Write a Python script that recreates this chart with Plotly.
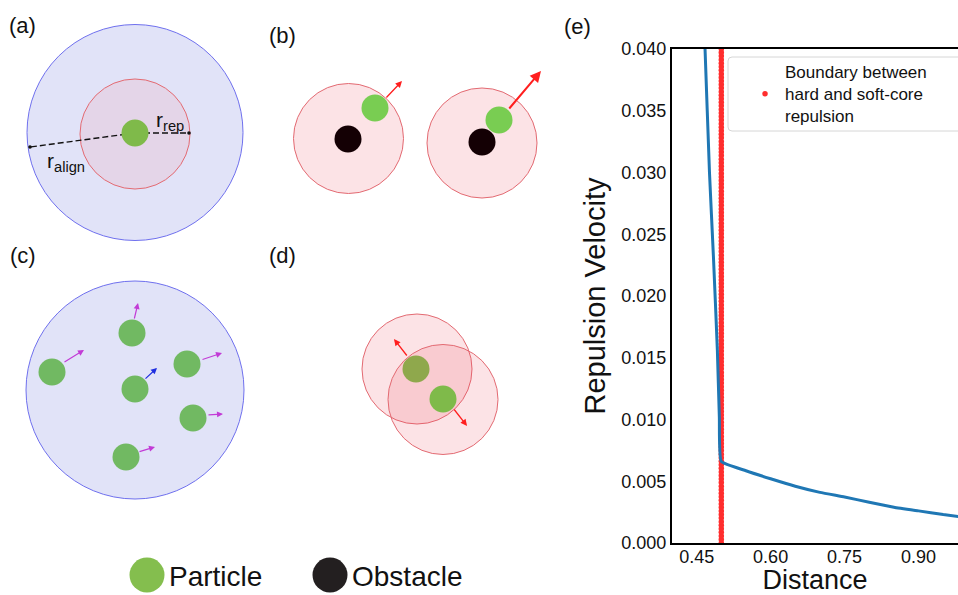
import numpy as np
import plotly.graph_objects as go

W, H = 958, 595

# ---- panel (e): repulsion velocity against distance ----
hard_distance = [0.462, 0.467, 0.476, 0.484, 0.492, 0.496, 0.500]
hard_velocity = [0.0445, 0.0400, 0.0300, 0.0232, 0.0156, 0.0102, 0.0066]
soft_distance = [0.55, 0.60, 0.65, 0.70, 0.75, 0.80, 0.85, 0.90, 0.95, 1.00]
soft_velocity = [0.00585, 0.0052, 0.0046, 0.0041, 0.00372, 0.0033, 0.0029, 0.0026, 0.0023, 0.00205]
boundary_distance = 0.5
boundary_label = "Boundary between<br>hard and soft-core<br>repulsion"
x_ticks = [0.45, 0.60, 0.75, 0.90]
y_ticks = [0.000, 0.005, 0.010, 0.015, 0.020, 0.025, 0.030, 0.035, 0.040]
x_range = [0.40, 0.98]
y_range = [0.0, 0.040]

FONT = "Liberation Sans, Arial, sans-serif"


def px(x):
    return x / W


def py(y):
    return 1 - y / H


def circle(cx, cy, r, fill, line=None, width=1.0):
    return dict(
        type="circle", xref="paper", yref="paper",
        x0=px(cx - r), x1=px(cx + r), y0=py(cy + r), y1=py(cy - r),
        fillcolor=fill,
        line=dict(color=line if line else "rgba(0,0,0,0)", width=width if line else 0),
        layer="above",
    )


def seg(x0, y0, x1, y1, color, width=1.5, dash="solid"):
    return dict(
        type="line", xref="paper", yref="paper",
        x0=px(x0), y0=py(y0), x1=px(x1), y1=py(y1),
        line=dict(color=color, width=width, dash=dash), layer="above",
    )


def arrow(x0, y0, x1, y1, color, width=1.2, size=1.0):
    return dict(
        xref="paper", yref="paper", x=px(x1), y=py(y1),
        axref="pixel", ayref="pixel", ax=x0 - x1, ay=y0 - y1,
        showarrow=True, text="", arrowhead=2, arrowsize=size,
        arrowwidth=width, arrowcolor=color, standoff=0, startstandoff=0,
    )


def label(x, y, text, size=22, xanchor="center"):
    return dict(
        xref="paper", yref="paper", x=px(x), y=py(y), text=text,
        showarrow=False, xanchor=xanchor, yanchor="middle",
        font=dict(family=FONT, size=size, color="#111111"),
    )


BLUE_FILL, BLUE_EDGE = "#e1e3f8", "#6f70ee"
PINK_FILL, RED_EDGE = "rgba(232,70,85,0.15)", "#e36a72"
GREEN_A, GREEN_B, GREEN_C = "#7fba4a", "#79cd52", "#71b962"
BLACK = "#140004"
MAGENTA, ARROW_BLUE, RED = "#c23bd6", "#1f2ee0", "#ff1f1f"

shapes = []
annotations = []

# (a) alignment and repulsion radii
shapes += [
    circle(135, 132.5, 108, BLUE_FILL, BLUE_EDGE),
    circle(135, 134, 55, "#e4d5e8", RED_EDGE),
    seg(135, 133, 30, 147, "#111111", 1.4, "6px,3px"),
    seg(135, 133, 189, 133, "#111111", 1.4, "6px,3px"),
    circle(30, 147, 1.8, "#111111"),
    circle(189, 133, 1.8, "#111111"),
    circle(135, 133, 13.5, GREEN_A),
]
annotations += [
    label(170, 121, "r<sub>rep</sub>", 21),
    label(66, 162, "r<sub>align</sub>", 21),
]

# (b) particle next to an obstacle
shapes += [
    circle(348.5, 138.5, 55, PINK_FILL, RED_EDGE),
    circle(348, 139, 13.5, BLACK),
    circle(375, 108, 13.5, GREEN_B),
    circle(482, 143, 55, PINK_FILL, RED_EDGE),
    circle(482, 142, 13.5, BLACK),
    circle(499, 120, 13.5, GREEN_B),
]
annotations += [
    arrow(385, 99, 402, 81, RED, 1.3, 1.0),
    arrow(508, 110, 541, 71, RED, 2.0, 1.1),
]

# (c) alignment neighbourhood
shapes += [circle(135, 390, 109, BLUE_FILL, BLUE_EDGE)]
neighbours = [(132, 333), (52, 372), (187, 364), (135, 389), (193, 418), (126, 457)]
shapes += [circle(x, y, 13.5, GREEN_C) for x, y in neighbours]
annotations += [
    arrow(134, 320, 138, 303, MAGENTA, 1.2, 1.0),
    arrow(63, 363, 84, 350, MAGENTA, 1.2, 1.0),
    arrow(201, 360, 222, 353, MAGENTA, 1.2, 1.0),
    arrow(144, 380, 157, 368, ARROW_BLUE, 1.2, 1.0),
    arrow(207, 415, 223, 414, MAGENTA, 1.2, 1.0),
    arrow(138, 452, 155, 447, MAGENTA, 1.2, 1.0),
]

# (d) two overlapping particles repelling
shapes += [
    circle(417, 369, 55, PINK_FILL, RED_EDGE),
    circle(416, 369, 13.5, GREEN_A),
    circle(443, 399.5, 55, PINK_FILL, RED_EDGE),
    circle(443, 399, 13.5, GREEN_A),
]
annotations += [
    arrow(408, 357, 394, 339, RED, 1.3, 1.0),
    arrow(453, 408, 467, 426, RED, 1.3, 1.0),
]

# panel letters
annotations += [
    label(22, 26, "(a)"), label(282, 35, "(b)"), label(23, 255, "(c)"),
    label(282, 255, "(d)"), label(577, 27, "(e)"),
]

# key at the bottom
shapes += [circle(147, 575, 17.5, "#84be4e"), circle(330, 575, 17.5, "#231f20")]
annotations += [
    label(167, 576, "Particle", 28, "left"),
    label(350, 576, "Obstacle", 28, "left"),
]

# rounded frame behind the legend of panel (e)
lx0, ly0, lx1, ly1, rr = 728, 57, 972, 131, 4
ry = rr / H
frame = (
    f"M {px(lx0 + rr)},{py(ly0)} L {px(lx1 - rr)},{py(ly0)} "
    f"Q {px(lx1)},{py(ly0)} {px(lx1)},{py(ly0) - ry} "
    f"L {px(lx1)},{py(ly1) + ry} Q {px(lx1)},{py(ly1)} {px(lx1 - rr)},{py(ly1)} "
    f"L {px(lx0 + rr)},{py(ly1)} Q {px(lx0)},{py(ly1)} {px(lx0)},{py(ly1) + ry} "
    f"L {px(lx0)},{py(ly0) - ry} Q {px(lx0)},{py(ly0)} {px(lx0 + rr)},{py(ly0)} Z"
)
shapes.append(dict(type="path", xref="paper", yref="paper", path=frame,
                   fillcolor="rgba(255,255,255,0.85)",
                   line=dict(color="#d6d6d6", width=1), layer="above"))

fig = go.Figure()

boundary_y = np.linspace(y_range[0], y_range[1], 140)
fig.add_trace(go.Scatter(
    x=[boundary_distance] * len(boundary_y), y=boundary_y, mode="markers",
    marker=dict(color="#ff2e2e", size=5.5, line=dict(width=0)),
    name=boundary_label, cliponaxis=True,
))
fig.add_trace(go.Scatter(
    x=hard_distance + soft_distance, y=hard_velocity + soft_velocity,
    mode="lines", line=dict(color="#1f77b4", width=3, shape="spline", smoothing=0.4),
    showlegend=False, cliponaxis=True,
))

axis_font = dict(family=FONT, size=18, color="#111111")
fig.update_xaxes(
    domain=[px(672), 1.0], range=x_range, tickvals=x_ticks,
    ticktext=[f"{v:.2f}" for v in x_ticks], ticks="", showgrid=False,
    zeroline=False, showline=True, linecolor="black", linewidth=2.2,
    mirror=True, tickfont=axis_font, automargin=False, ticklabelstandoff=-4,
    title=dict(text="Distance", font=dict(family=FONT, size=27, color="#111111"), standoff=2),
)
fig.update_yaxes(
    domain=[py(543), py(49)], range=y_range, tickvals=y_ticks,
    ticktext=[f"{v:.3f}" for v in y_ticks], ticks="", showgrid=False,
    zeroline=False, showline=True, linecolor="black", linewidth=2.2,
    tickfont=axis_font, automargin=False,
    title=dict(text="Repulsion Velocity", font=dict(family=FONT, size=29, color="#111111"), standoff=7),
)

fig.update_layout(
    width=W, height=H, margin=dict(l=0, r=0, t=0, b=0),
    paper_bgcolor="white", plot_bgcolor="rgba(0,0,0,0)",
    font=dict(family=FONT, color="#111111"),
    showlegend=True,
    legend=dict(x=px(745), y=py(54), xanchor="left", yanchor="top",
                bgcolor="rgba(0,0,0,0)", borderwidth=0, tracegroupgap=0,
                font=dict(family=FONT, size=17, color="#111111")),
    shapes=shapes, annotations=annotations,
)

fig.write_html("out.html")
